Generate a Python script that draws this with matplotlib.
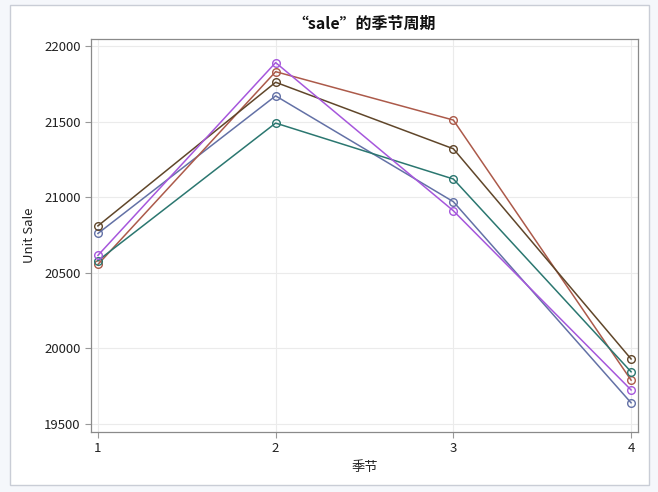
import matplotlib
matplotlib.use("Agg")
import matplotlib.pyplot as plt
from matplotlib.patches import Rectangle

plt.rcParams['font.family'] = ['Noto Sans CJK SC', 'DejaVu Sans']

quarters = [1, 2, 3, 4]
series_a = [20760, 21670, 20970, 19640]   # blue-gray
series_b = [20555, 21830, 21510, 19790]   # red
series_c = [20580, 21490, 21120, 19845]   # teal
series_d = [20810, 21760, 21320, 19930]   # brown
series_e = [20615, 21890, 20910, 19725]   # purple
colors = ['#6371a6', '#ac5a4a', '#2b7770', '#60462a', '#a657dc']
yticks = [19500, 20000, 20500, 21000, 21500, 22000]
title = '“sale”的季节周期'
xlabel = '季节'
ylabel = 'Unit Sale'

fig = plt.figure(figsize=(6.58, 4.92), dpi=100)
fig.patch.set_facecolor('#f5f7fb')
fig.patches.append(Rectangle((0.0152, 0.0142), 0.971, 0.9756, transform=fig.transFigure,
                             facecolor='white', edgecolor='#c9cdd6', linewidth=1.0, zorder=-5))

ax = fig.add_axes([0.1383, 0.1220, 0.8313, 0.7987])
ax.set_zorder(2)
for s, c in zip([series_a, series_b, series_c, series_d, series_e], colors):
    ax.plot(quarters, s, color=c, linewidth=1.1, marker='o', markersize=5.5,
            markerfacecolor='none', markeredgecolor=c, markeredgewidth=1.0, zorder=3)

ax.set_xlim(0.961, 4.039)
ax.set_ylim(19447, 22046)
ax.set_xticks(quarters)
ax.set_yticks(yticks)
ax.tick_params(axis='both', labelsize=9.5, color='#999999', length=4, width=0.8, labelcolor='#222222')
ax.grid(True, color='#ebebeb', linewidth=0.8, zorder=0)
ax.set_axisbelow(True)
for sp in ax.spines.values():
    sp.set_color('#8a8a8a')
    sp.set_linewidth(0.9)

ax.set_title(title, fontsize=11.5, fontweight='bold', pad=7, color='#111111')
ax.set_xlabel(xlabel, fontsize=9.5, labelpad=4, color='#222222')
ax.set_ylabel(ylabel, fontsize=9.5, labelpad=6, color='#222222')

fig.savefig('out.png', dpi=100, facecolor=fig.get_facecolor())
